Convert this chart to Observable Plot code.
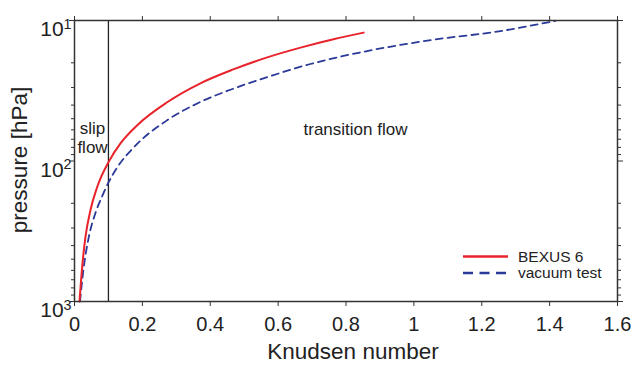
<!DOCTYPE html>
<html><head><meta charset="utf-8">
<script src="https://cdn.jsdelivr.net/npm/d3@7"></script>
<script src="https://cdn.jsdelivr.net/npm/@observablehq/plot@0.6"></script>
<style>
body{margin:0;background:#fff;}
#wrap{width:634px;height:369px;}
</style></head><body><div id="wrap"></div>
<script>
// Data
const bexusKn = [0.0147, 0.0227, 0.0324, 0.0471, 0.0669, 0.101, 0.136, 0.185, 0.273, 0.371, 0.468, 0.568, 0.666, 0.763, 0.852];
const bexusP  = [1000, 564, 346, 223, 153, 101, 74.6, 55.6, 38.2, 28.0, 22.3, 18.3, 15.6, 13.6, 12.2];
const vacKn = [0.0162, 0.0274, 0.0421, 0.0619, 0.0816, 0.101, 0.126, 0.175, 0.273, 0.371, 0.469, 0.568, 0.695, 0.862, 1.058, 1.255, 1.352, 1.417];
const vacP  = [1000, 567, 348, 234, 178, 141, 111, 79.8, 51.3, 38.0, 30.5, 25.3, 20.4, 16.5, 13.7, 11.9, 10.8, 10.05];
const seriesNames = ["BEXUS 6", "vacuum test"];
const xTicks = [0, 0.2, 0.4, 0.6, 0.8, 1, 1.2, 1.4, 1.6];
const yMajor = [10, 100, 1000];
const yMinor = [20, 30, 40, 50, 60, 70, 80, 90, 200, 300, 400, 500, 600, 700, 800, 900];
const slipBoundary = [0.1];
const regionLabels = ["slip\nflow", "transition flow"];
const regionKn = [0.053, 0.828];
const regionP = [68, 59.7];

const RED = "#e8232b", BLUE = "#2b3a98", INK = "#222";
const FONT = "'Liberation Sans', Arial, Helvetica, sans-serif";

const bexus = bexusKn.map((k, i) => ({kn: k, p: bexusP[i]}));
const vac = vacKn.map((k, i) => ({kn: k, p: vacP[i]}));
const regions = regionLabels.map((t, i) => ({label: t, kn: regionKn[i], p: regionP[i]}));

const chart = Plot.plot({
  width: 634, height: 369,
  marginLeft: 74, marginRight: 17, marginTop: 20, marginBottom: 68,
  style: {fontFamily: FONT, fontSize: "20px", color: INK, background: "#fff"},
  x: {domain: [0, 1.6]},
  y: {type: "log", domain: [10, 1000], reverse: true},
  marks: [
    Plot.ruleX(slipBoundary, {stroke: INK, strokeWidth: 1.3}),
    Plot.line(vac, {x: "kn", y: "p", stroke: BLUE, strokeWidth: 1.8, strokeDasharray: "7,5", curve: "monotone-x"}),
    Plot.line(bexus, {x: "kn", y: "p", stroke: RED, strokeWidth: 2, curve: "monotone-x"}),
    Plot.text(regions, {x: "kn", y: "p", text: "label", fontSize: 17, lineHeight: 1.09, fill: INK}),
    Plot.frame({stroke: "#333", strokeWidth: 1.5}),
    Plot.axisX({anchor: "bottom", ticks: xTicks, tickSize: 5, tickPadding: 10, tickFormat: d => String(d), label: null, fontSize: 20, stroke: "#333"}),
    Plot.axisX({anchor: "top", ticks: xTicks, tickSize: 5, tickFormat: () => "", label: null, stroke: "#333"}),
    Plot.axisY({anchor: "left", ticks: yMajor, tickSize: 5, tickFormat: () => "", label: null, stroke: "#333"}),
    Plot.axisY({anchor: "left", ticks: yMinor, tickSize: 3, tickFormat: () => "", label: null, stroke: "#333"}),
    Plot.axisY({anchor: "right", ticks: yMajor, tickSize: 5, tickFormat: () => "", label: null, stroke: "#333"}),
    Plot.axisY({anchor: "right", ticks: yMinor, tickSize: 3, tickFormat: () => "", label: null, stroke: "#333"}),
    Plot.axisY({anchor: "left", ticks: yMajor, tickSize: 0, tickPadding: 3, tickFormat: d => "10|" + Math.round(Math.log10(d)), label: null, fontSize: 21})
  ]
});
document.getElementById("wrap").appendChild(chart);

const svg = d3.select(chart);
// superscript exponents on y tick labels
svg.selectAll("text").each(function() {
  const t = this.textContent;
  const m = /^10\|(\d)$/.exec(t);
  if (!m) return;
  const el = d3.select(this);
  el.text(null);
  el.append("tspan").text("10");
  el.append("tspan").attr("dy", "-0.5em").attr("font-size", "0.68em").text(m[1]);
  el.attr("dy", "0.42em");
});

// axis titles
svg.append("text").attr("x", 353).attr("y", 359).attr("text-anchor", "middle")
  .attr("font-family", FONT).attr("font-size", 22.5).attr("fill", INK).text("Knudsen number");
svg.append("text").attr("transform", "translate(27,160) rotate(-90)").attr("text-anchor", "middle")
  .attr("font-family", FONT).attr("font-size", 22.5).attr("fill", INK).text("pressure [hPa]");

// legend
const lg = svg.append("g").attr("font-family", FONT).attr("font-size", 15.5).attr("fill", INK).attr("text-anchor", "start");
const legendStyles = [{stroke: RED, dash: null, w: 2.4}, {stroke: BLUE, dash: "10,6.5", w: 2.4}];
const legendLineY = [256.5, 273];
const legendTextY = [262, 278];
seriesNames.forEach((name, i) => {
  lg.append("line").attr("x1", 463).attr("x2", 508).attr("y1", legendLineY[i]).attr("y2", legendLineY[i])
    .attr("stroke", legendStyles[i].stroke).attr("stroke-width", legendStyles[i].w)
    .attr("stroke-dasharray", legendStyles[i].dash);
  lg.append("text").attr("x", 518).attr("y", legendTextY[i]).attr("text-anchor", "start").text(name);
});
</script></body></html>
